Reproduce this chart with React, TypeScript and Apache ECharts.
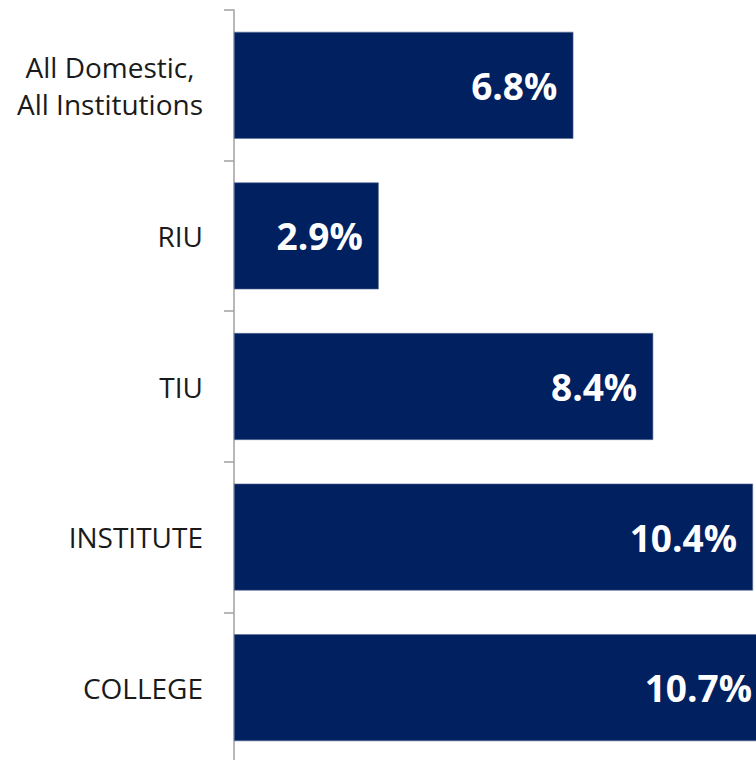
import React, { useEffect, useRef } from "react";
import * as echarts from "echarts";

const categories = ["All Domestic,\nAll Institutions", "RIU", "TIU", "INSTITUTE", "COLLEGE"];
const values = [6.8, 2.9, 8.4, 10.4, 10.7];
const axisMax = 10.7;

export default function App() {
  const ref = useRef<HTMLDivElement>(null);
  useEffect(() => {
    if (!ref.current) return;
    const chart = echarts.init(ref.current, null, { renderer: "svg" });
    chart.setOption({
      animation: false,
      backgroundColor: "#ffffff",
      grid: { left: 234, right: 3, top: 10, bottom: 7, containLabel: false },
      xAxis: {
        type: "value",
        min: 0,
        max: axisMax,
        show: false,
      },
      yAxis: {
        type: "category",
        inverse: true,
        data: categories,
        axisLine: { show: true, lineStyle: { color: "#a0a0a0", width: 1.5 } },
        axisTick: { show: true, length: 10, lineStyle: { color: "#a0a0a0", width: 1.5 } },
        axisLabel: {
          margin: 31,
          color: "#1a1a1a",
          fontFamily: "'Open Sans', sans-serif",
          fontSize: 28,
          lineHeight: 37,
          align: "right",
          formatter: (v: string) => (v.indexOf("\n") >= 0 ? "{c|" + v.split("\n").join("}\n{c|") + "}" : v),
          rich: {
            c: {
              width: 186,
              align: "center",
              color: "#1a1a1a",
              fontFamily: "'Open Sans', sans-serif",
              fontSize: 28,
              lineHeight: 37,
            },
          },
        },
      },
      series: [
        {
          type: "bar",
          data: values,
          barCategoryGap: "29%",
          clip: false,
          itemStyle: { color: "#002060", borderColor: "#5a6d96", borderWidth: 0.6 },
          label: {
            show: true,
            position: "insideRight",
            distance: 16,
            color: "#ffffff",
            fontFamily: "'Open Sans', sans-serif",
            fontWeight: "bold",
            fontSize: 37,
            formatter: (p: any) => p.value.toFixed(1) + "%",
          },
        },
      ],
    });
    return () => chart.dispose();
  }, []);
  return (
    <div style={{ position: "absolute", left: 0, top: 0, width: 756, height: 760, overflow: "hidden" }}>
      <div ref={ref} style={{ width: 771, height: 770 }} />
    </div>
  );
}
